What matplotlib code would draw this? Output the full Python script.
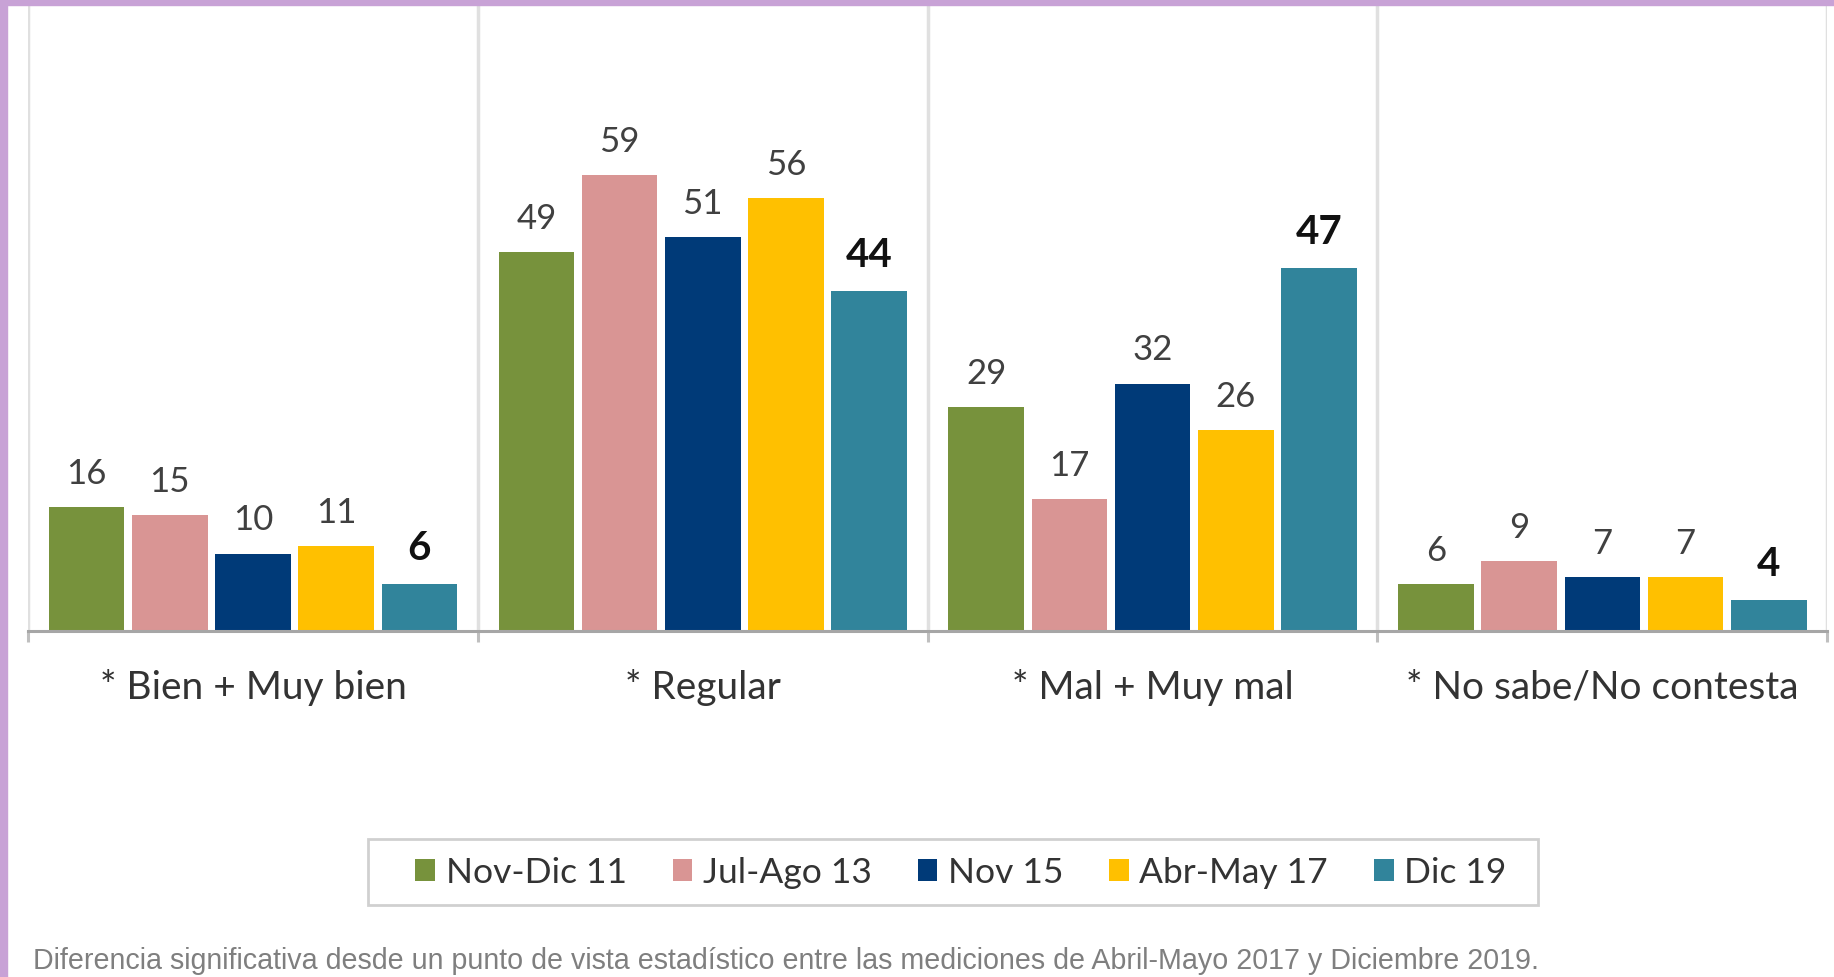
import matplotlib
matplotlib.use('Agg')

import matplotlib.pyplot as plt
import numpy as np
from matplotlib.patches import Rectangle

plt.rcParams['font.family'] = ['Lato', 'DejaVu Sans']

# data
categories = ['* Bien + Muy bien', '* Regular', '* Mal + Muy mal', '* No sabe/No contesta']
series_names = ['Nov-Dic 11', 'Jul-Ago 13', 'Nov 15', 'Abr-May 17', 'Dic 19']
nov_dic_11 = [16, 49, 29, 6]
jul_ago_13 = [15, 59, 17, 9]
nov_15 = [10, 51, 32, 7]
abr_may_17 = [11, 56, 26, 7]
dic_19 = [6, 44, 47, 4]
footnote = ('Diferencia significativa desde un punto de vista estadístico entre las '
            'mediciones de Abril-Mayo 2017 y Diciembre 2019.')

series = [nov_dic_11, jul_ago_13, nov_15, abr_may_17, dic_19]
colors = ['#77923C', '#D99594', '#003A78', '#FFC000', '#31849B']

fig = plt.figure(figsize=(18.34, 9.78), dpi=100)
ax = fig.add_axes([0.0153, 0.354, 0.981, 0.640])

x = np.arange(len(categories))
slot = 0.185
width = 0.168
for i, (vals, col, name) in enumerate(zip(series, colors, series_names)):
    pos = x + (i - 2) * slot
    bars = ax.bar(pos, vals, width, color=col, label=name, zorder=3)
    last = i == len(series) - 1
    for b, v in zip(bars, vals):
        ax.annotate(str(v), (b.get_x() + b.get_width() / 2, v),
                    xytext=(0, 13), textcoords='offset points',
                    ha='center', va='bottom',
                    fontsize=29 if last else 25,
                    fontweight='bold' if last else 'normal',
                    color='#111111' if last else '#404040')

ax.set_xlim(-0.5, 3.5)
ax.set_ylim(0, 81)
ax.set_yticks([])
for s in ['left', 'right', 'top']:
    ax.spines[s].set_visible(False)
ax.spines['bottom'].set_color('#a6a6a6')
ax.spines['bottom'].set_linewidth(2.2)
ax.spines['bottom'].set_zorder(4)

ax.set_xticks(x)
ax.set_xticklabels(categories, fontsize=28, color='#333333')
ax.tick_params(axis='x', which='major', length=0, pad=27)
ax.set_xticks(np.arange(-0.5, 4.0, 1.0), minor=True)
ax.tick_params(axis='x', which='minor', length=8, width=2.2, color='#bfbfbf')
ax.grid(which='minor', axis='x', color='#e0e0e0', linewidth=2.5, zorder=0)

leg = fig.legend(loc='center', bbox_to_anchor=(0.524, 0.107), ncol=5,
                 fontsize=25.5, frameon=False,
                 handlelength=0.55, handleheight=0.6, handletextpad=0.3,
                 columnspacing=1.3)
for t in leg.get_texts():
    t.set_color('#333333')

# legend box, wider than the entries
fig.patches.append(Rectangle((0.2007, 0.0736), 0.6379, 0.0675, transform=fig.transFigure,
                             facecolor='none', edgecolor='#d0d0d0', linewidth=2,
                             zorder=5))

fig.text(0.018, 0.0174, footnote, fontsize=20.6, color='#7f7f7f',
         family=['Liberation Sans', 'DejaVu Sans'],
         ha='left', va='center')

# purple frame on top and left
fig.patches.append(Rectangle((0, 0.994), 1, 0.006, transform=fig.transFigure,
                             color='#C8A2D6', zorder=10))
fig.patches.append(Rectangle((0, 0), 0.0038, 1, transform=fig.transFigure,
                             color='#C8A2D6', zorder=10))

fig.savefig('out.png', dpi=100)
